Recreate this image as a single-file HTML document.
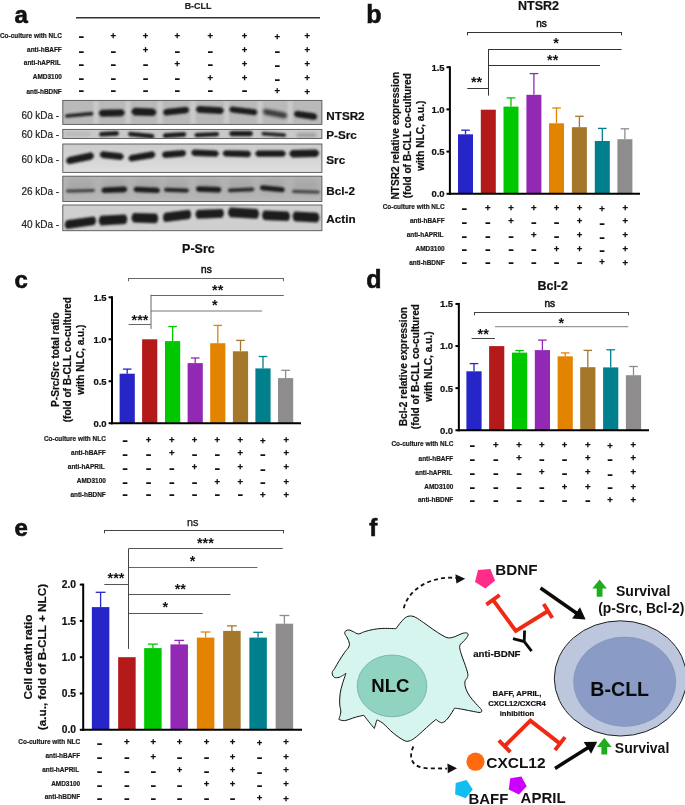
<!DOCTYPE html>
<html lang="en"><head><meta charset="utf-8"><title>Figure</title>
<style>html,body{margin:0;padding:0;background:#fff}svg{display:block}text{font-family:"Liberation Sans", Arial, sans-serif}</style>
</head><body>
<svg width="685" height="805" viewBox="0 0 685 805" font-family='"Liberation Sans", Arial, sans-serif'>
<defs>
<filter id="bl" x="-20%" y="-60%" width="140%" height="220%"><feGaussianBlur stdDeviation="0.9"/></filter>
<filter id="bl2" x="-20%" y="-60%" width="140%" height="220%"><feGaussianBlur stdDeviation="1.6"/></filter>
<filter id="bl3" x="-30%" y="-30%" width="160%" height="160%"><feGaussianBlur stdDeviation="3"/></filter>
<linearGradient id="gsrc" x1="0" y1="0" x2="0" y2="1"><stop offset="0" stop-color="#cbcbcb"/><stop offset="1" stop-color="#dedede"/></linearGradient>
</defs>
<rect x="0.00" y="0.00" width="685.00" height="805.00" fill="#fff" />
<text x="14.50" y="23.20" font-size="24" font-weight="bold" text-anchor="start" fill="#111" stroke="#111" stroke-width=".6">a</text>
<line x1="76.00" y1="17.80" x2="320.00" y2="17.80" stroke="#333" stroke-width="1.4" />
<text x="198.00" y="8.99" font-size="8.9" font-weight="bold" text-anchor="middle" fill="#222"  stroke="#222" stroke-width="0.2">B-CLL</text>
<text x="61.80" y="38.01" font-size="6.45" font-weight="bold" text-anchor="end" fill="#1a1a1a"  stroke="#1a1a1a" stroke-width="0.2">Co-culture with NLC</text>
<text transform="translate(81.20,41.44) scale(1.32,1)" x="0" y="0" font-size="14" font-weight="bold" text-anchor="middle" fill="#111">-</text>
<text x="113.30" y="38.94" font-size="9.5" font-weight="bold" text-anchor="middle" fill="#111" stroke="#111" stroke-width=".3">+</text>
<text x="145.50" y="38.94" font-size="9.5" font-weight="bold" text-anchor="middle" fill="#111" stroke="#111" stroke-width=".3">+</text>
<text x="177.20" y="38.94" font-size="9.5" font-weight="bold" text-anchor="middle" fill="#111" stroke="#111" stroke-width=".3">+</text>
<text x="210.40" y="38.94" font-size="9.5" font-weight="bold" text-anchor="middle" fill="#111" stroke="#111" stroke-width=".3">+</text>
<text x="244.60" y="38.94" font-size="9.5" font-weight="bold" text-anchor="middle" fill="#111" stroke="#111" stroke-width=".3">+</text>
<text x="277.30" y="39.54" font-size="9.5" font-weight="bold" text-anchor="middle" fill="#111" stroke="#111" stroke-width=".3">+</text>
<text x="307.20" y="38.94" font-size="9.5" font-weight="bold" text-anchor="middle" fill="#111" stroke="#111" stroke-width=".3">+</text>
<text x="61.80" y="51.81" font-size="6.45" font-weight="bold" text-anchor="end" fill="#1a1a1a"  stroke="#1a1a1a" stroke-width="0.2">anti-hBAFF</text>
<text transform="translate(81.20,55.64) scale(1.32,1)" x="0" y="0" font-size="14" font-weight="bold" text-anchor="middle" fill="#111">-</text>
<text transform="translate(113.30,55.64) scale(1.32,1)" x="0" y="0" font-size="14" font-weight="bold" text-anchor="middle" fill="#111">-</text>
<text x="145.50" y="52.84" font-size="9.5" font-weight="bold" text-anchor="middle" fill="#111" stroke="#111" stroke-width=".3">+</text>
<text transform="translate(177.20,55.64) scale(1.32,1)" x="0" y="0" font-size="14" font-weight="bold" text-anchor="middle" fill="#111">-</text>
<text transform="translate(210.40,55.64) scale(1.32,1)" x="0" y="0" font-size="14" font-weight="bold" text-anchor="middle" fill="#111">-</text>
<text x="244.60" y="52.84" font-size="9.5" font-weight="bold" text-anchor="middle" fill="#111" stroke="#111" stroke-width=".3">+</text>
<text transform="translate(277.30,56.24) scale(1.32,1)" x="0" y="0" font-size="14" font-weight="bold" text-anchor="middle" fill="#111">-</text>
<text x="307.20" y="52.84" font-size="9.5" font-weight="bold" text-anchor="middle" fill="#111" stroke="#111" stroke-width=".3">+</text>
<text x="60.70" y="65.41" font-size="6.45" font-weight="bold" text-anchor="end" fill="#1a1a1a"  stroke="#1a1a1a" stroke-width="0.2">anti-hAPRIL</text>
<text transform="translate(81.20,69.04) scale(1.32,1)" x="0" y="0" font-size="14" font-weight="bold" text-anchor="middle" fill="#111">-</text>
<text transform="translate(113.30,69.04) scale(1.32,1)" x="0" y="0" font-size="14" font-weight="bold" text-anchor="middle" fill="#111">-</text>
<text transform="translate(145.50,69.04) scale(1.32,1)" x="0" y="0" font-size="14" font-weight="bold" text-anchor="middle" fill="#111">-</text>
<text x="177.20" y="67.23" font-size="9.5" font-weight="bold" text-anchor="middle" fill="#111" stroke="#111" stroke-width=".3">+</text>
<text transform="translate(210.40,69.04) scale(1.32,1)" x="0" y="0" font-size="14" font-weight="bold" text-anchor="middle" fill="#111">-</text>
<text x="244.60" y="67.23" font-size="9.5" font-weight="bold" text-anchor="middle" fill="#111" stroke="#111" stroke-width=".3">+</text>
<text transform="translate(277.30,69.64) scale(1.32,1)" x="0" y="0" font-size="14" font-weight="bold" text-anchor="middle" fill="#111">-</text>
<text x="307.20" y="67.23" font-size="9.5" font-weight="bold" text-anchor="middle" fill="#111" stroke="#111" stroke-width=".3">+</text>
<text x="61.80" y="79.11" font-size="6.45" font-weight="bold" text-anchor="end" fill="#1a1a1a"  stroke="#1a1a1a" stroke-width="0.2">AMD3100</text>
<text transform="translate(81.20,83.24) scale(1.32,1)" x="0" y="0" font-size="14" font-weight="bold" text-anchor="middle" fill="#111">-</text>
<text transform="translate(113.30,83.24) scale(1.32,1)" x="0" y="0" font-size="14" font-weight="bold" text-anchor="middle" fill="#111">-</text>
<text transform="translate(145.50,83.24) scale(1.32,1)" x="0" y="0" font-size="14" font-weight="bold" text-anchor="middle" fill="#111">-</text>
<text transform="translate(177.20,83.24) scale(1.32,1)" x="0" y="0" font-size="14" font-weight="bold" text-anchor="middle" fill="#111">-</text>
<text x="210.40" y="81.14" font-size="9.5" font-weight="bold" text-anchor="middle" fill="#111" stroke="#111" stroke-width=".3">+</text>
<text x="244.60" y="81.14" font-size="9.5" font-weight="bold" text-anchor="middle" fill="#111" stroke="#111" stroke-width=".3">+</text>
<text transform="translate(277.30,83.84) scale(1.32,1)" x="0" y="0" font-size="14" font-weight="bold" text-anchor="middle" fill="#111">-</text>
<text x="307.20" y="81.14" font-size="9.5" font-weight="bold" text-anchor="middle" fill="#111" stroke="#111" stroke-width=".3">+</text>
<text x="61.80" y="93.61" font-size="6.45" font-weight="bold" text-anchor="end" fill="#1a1a1a"  stroke="#1a1a1a" stroke-width="0.2">anti-hBDNF</text>
<text transform="translate(81.20,94.74) scale(1.32,1)" x="0" y="0" font-size="14" font-weight="bold" text-anchor="middle" fill="#111">-</text>
<text transform="translate(113.30,94.74) scale(1.32,1)" x="0" y="0" font-size="14" font-weight="bold" text-anchor="middle" fill="#111">-</text>
<text transform="translate(145.50,94.74) scale(1.32,1)" x="0" y="0" font-size="14" font-weight="bold" text-anchor="middle" fill="#111">-</text>
<text transform="translate(177.20,94.74) scale(1.32,1)" x="0" y="0" font-size="14" font-weight="bold" text-anchor="middle" fill="#111">-</text>
<text transform="translate(210.40,94.74) scale(1.32,1)" x="0" y="0" font-size="14" font-weight="bold" text-anchor="middle" fill="#111">-</text>
<text transform="translate(244.60,94.74) scale(1.32,1)" x="0" y="0" font-size="14" font-weight="bold" text-anchor="middle" fill="#111">-</text>
<text x="277.30" y="94.44" font-size="9.5" font-weight="bold" text-anchor="middle" fill="#111" stroke="#111" stroke-width=".3">+</text>
<text x="307.20" y="95.34" font-size="9.5" font-weight="bold" text-anchor="middle" fill="#111" stroke="#111" stroke-width=".3">+</text>
<clipPath id="cp0"><rect x="62.8" y="100.4" width="259.10" height="24.00"/></clipPath>
<rect x="62.80" y="100.40" width="259.10" height="24.00" fill="#b9b9b9" />
<g clip-path="url(#cp0)">
<rect x="93.5" y="100.4" width="5" height="24.0" fill="#d2d2d2" opacity=".75" filter="url(#bl2)"/>
<rect x="125.5" y="100.4" width="5" height="24.0" fill="#d2d2d2" opacity=".75" filter="url(#bl2)"/>
<rect x="157.5" y="100.4" width="5" height="24.0" fill="#d2d2d2" opacity=".75" filter="url(#bl2)"/>
<rect x="190.5" y="100.4" width="5" height="24.0" fill="#d2d2d2" opacity=".75" filter="url(#bl2)"/>
<rect x="224.0" y="100.4" width="5" height="24.0" fill="#d2d2d2" opacity=".75" filter="url(#bl2)"/>
<rect x="257.5" y="100.4" width="5" height="24.0" fill="#d2d2d2" opacity=".75" filter="url(#bl2)"/>
<rect x="287.5" y="100.4" width="5" height="24.0" fill="#d2d2d2" opacity=".75" filter="url(#bl2)"/>
<path d="M66.40,114.20 L92.00,111.80 Q94.88,113.60 92.00,115.40 L66.40,117.80 Q63.52,116.00 66.40,114.20Z" fill="#1c1c1c" opacity="0.95" filter="url(#bl)"/>
<path d="M101.50,109.70 L122.00,109.30 Q127.60,112.80 122.00,116.30 L101.50,116.70 Q95.90,113.20 101.50,109.70Z" fill="#1c1c1c" opacity="1" filter="url(#bl)"/>
<path d="M134.40,107.80 L153.40,108.40 Q159.48,112.20 153.40,116.00 L134.40,115.40 Q128.32,111.60 134.40,107.80Z" fill="#1c1c1c" opacity="1" filter="url(#bl)"/>
<path d="M165.60,108.90 L186.60,106.70 Q191.88,110.00 186.60,113.30 L165.60,115.50 Q160.32,112.20 165.60,108.90Z" fill="#1c1c1c" opacity="1" filter="url(#bl)"/>
<path d="M198.50,106.10 L221.20,107.30 Q226.48,110.60 221.20,113.90 L198.50,112.70 Q193.22,109.40 198.50,106.10Z" fill="#1c1c1c" opacity="1" filter="url(#bl)"/>
<path d="M231.70,106.40 L255.00,109.20 Q259.80,112.20 255.00,115.20 L231.70,112.40 Q226.90,109.40 231.70,106.40Z" fill="#1c1c1c" opacity="1" filter="url(#bl)"/>
<path d="M265.20,108.80 L284.80,112.40 Q289.60,115.40 284.80,118.40 L265.20,114.80 Q260.40,111.80 265.20,108.80Z" fill="#1c1c1c" opacity="0.8" filter="url(#bl2)"/>
<path d="M296.50,110.70 L314.70,113.30 Q319.98,116.60 314.70,119.90 L296.50,117.30 Q291.22,114.00 296.50,110.70Z" fill="#1c1c1c" opacity="1" filter="url(#bl)"/>
</g>
<rect x="62.8" y="100.4" width="259.10" height="24.00" fill="none" stroke="#555" stroke-width="0.9"/>
<text x="326.30" y="119.99" font-size="11.7" font-weight="bold" text-anchor="start" fill="#111"  stroke="#111" stroke-width="0.2">NTSR2</text>
<text x="21.40" y="118.58" font-size="10" font-weight="normal" text-anchor="start" fill="#222"  stroke="#222" stroke-width="0.2">60 kDa -</text>
<clipPath id="cp1"><rect x="62.8" y="129.4" width="259.10" height="9.10"/></clipPath>
<rect x="62.80" y="129.40" width="259.10" height="9.10" fill="#c9c9c9" />
<g clip-path="url(#cp1)">
<path d="M66.50,132.50 L89.50,132.50 Q91.90,134.00 89.50,135.50 L66.50,135.50 Q64.10,134.00 66.50,132.50Z" fill="#1c1c1c" opacity="0.12" filter="url(#bl2)"/>
<path d="M100.80,131.90 L117.20,131.10 Q120.88,133.40 117.20,135.70 L100.80,136.50 Q97.12,134.20 100.80,131.90Z" fill="#1c1c1c" opacity="1" filter="url(#bl)"/>
<path d="M129.80,131.70 L152.70,133.90 Q156.38,136.20 152.70,138.50 L129.80,136.30 Q126.12,134.00 129.80,131.70Z" fill="#1c1c1c" opacity="1" filter="url(#bl)"/>
<path d="M164.60,133.30 L184.50,132.10 Q188.18,134.40 184.50,136.70 L164.60,137.90 Q160.92,135.60 164.60,133.30Z" fill="#1c1c1c" opacity="1" filter="url(#bl)"/>
<path d="M196.10,133.10 L217.40,132.10 Q220.76,134.20 217.40,136.30 L196.10,137.30 Q192.74,135.20 196.10,133.10Z" fill="#1c1c1c" opacity="1" filter="url(#bl)"/>
<path d="M231.30,131.00 L250.90,131.00 Q255.06,133.60 250.90,136.20 L231.30,136.20 Q227.14,133.60 231.30,131.00Z" fill="#1c1c1c" opacity="1" filter="url(#bl)"/>
<path d="M262.90,131.70 L284.60,133.30 Q287.64,135.20 284.60,137.10 L262.90,135.50 Q259.86,133.60 262.90,131.70Z" fill="#1c1c1c" opacity="0.95" filter="url(#bl)"/>
<path d="M297.80,133.20 L315.20,133.20 Q318.08,135.00 315.20,136.80 L297.80,136.80 Q294.92,135.00 297.80,133.20Z" fill="#1c1c1c" opacity="0.28" filter="url(#bl2)"/>
</g>
<rect x="62.8" y="129.4" width="259.10" height="9.10" fill="none" stroke="#555" stroke-width="0.9"/>
<text x="326.30" y="139.19" font-size="11.7" font-weight="bold" text-anchor="start" fill="#111"  stroke="#111" stroke-width="0.2">P-Src</text>
<text x="21.40" y="137.98" font-size="10" font-weight="normal" text-anchor="start" fill="#222"  stroke="#222" stroke-width="0.2">60 kDa -</text>
<clipPath id="cp2"><rect x="62.8" y="144.0" width="259.10" height="28.40"/></clipPath>
<rect x="62.80" y="144.00" width="259.10" height="28.40" fill="url(#gsrc)" />
<g clip-path="url(#cp2)">
<path d="M68.90,156.90 L91.10,152.30 Q97.02,156.00 91.10,159.70 L68.90,164.30 Q62.98,160.60 68.90,156.90Z" fill="#1c1c1c" opacity="1" filter="url(#bl)"/>
<path d="M102.30,151.30 L121.20,153.30 Q126.48,156.60 121.20,159.90 L102.30,157.90 Q97.02,154.60 102.30,151.30Z" fill="#1c1c1c" opacity="1" filter="url(#bl)"/>
<path d="M130.90,154.90 L152.80,151.30 Q158.08,154.60 152.80,157.90 L130.90,161.50 Q125.62,158.20 130.90,154.90Z" fill="#1c1c1c" opacity="1" filter="url(#bl)"/>
<path d="M164.50,151.60 L183.60,150.00 Q188.72,153.20 183.60,156.40 L164.50,158.00 Q159.38,154.80 164.50,151.60Z" fill="#1c1c1c" opacity="1" filter="url(#bl)"/>
<path d="M193.70,149.60 L216.30,150.40 Q221.42,153.60 216.30,156.80 L193.70,156.00 Q188.58,152.80 193.70,149.60Z" fill="#1c1c1c" opacity="1" filter="url(#bl)"/>
<path d="M225.20,150.20 L248.60,150.80 Q253.72,154.00 248.60,157.20 L225.20,156.60 Q220.08,153.40 225.20,150.20Z" fill="#1c1c1c" opacity="1" filter="url(#bl)"/>
<path d="M257.70,150.40 L283.30,150.40 Q288.42,153.60 283.30,156.80 L257.70,156.80 Q252.58,153.60 257.70,150.40Z" fill="#1c1c1c" opacity="1" filter="url(#bl)"/>
<path d="M292.20,150.10 L316.30,149.50 Q322.22,153.20 316.30,156.90 L292.20,157.50 Q286.28,153.80 292.20,150.10Z" fill="#1c1c1c" opacity="1" filter="url(#bl)"/>
</g>
<rect x="62.8" y="144.0" width="259.10" height="28.40" fill="none" stroke="#555" stroke-width="0.9"/>
<text x="326.30" y="164.19" font-size="11.7" font-weight="bold" text-anchor="start" fill="#111"  stroke="#111" stroke-width="0.2">Src</text>
<text x="21.40" y="163.38" font-size="10" font-weight="normal" text-anchor="start" fill="#222"  stroke="#222" stroke-width="0.2">60 kDa -</text>
<clipPath id="cp3"><rect x="62.8" y="176.2" width="259.10" height="25.30"/></clipPath>
<rect x="62.80" y="176.20" width="259.10" height="25.30" fill="#b6b6b6" />
<g clip-path="url(#cp3)">
<rect x="66.6" y="179.2" width="27.6" height="14" fill="#8e8e8e" opacity=".35" filter="url(#bl3)"/>
<rect x="101.8" y="179.2" width="25.1" height="14" fill="#8e8e8e" opacity=".35" filter="url(#bl3)"/>
<rect x="134.0" y="179.2" width="25.5" height="14" fill="#8e8e8e" opacity=".35" filter="url(#bl3)"/>
<rect x="164.6" y="179.2" width="23.7" height="14" fill="#8e8e8e" opacity=".35" filter="url(#bl3)"/>
<rect x="196.4" y="179.2" width="24.6" height="14" fill="#8e8e8e" opacity=".35" filter="url(#bl3)"/>
<rect x="228.5" y="179.2" width="25.2" height="14" fill="#8e8e8e" opacity=".35" filter="url(#bl3)"/>
<rect x="260.4" y="179.2" width="23.9" height="14" fill="#8e8e8e" opacity=".35" filter="url(#bl3)"/>
<rect x="292.6" y="179.2" width="26.4" height="14" fill="#8e8e8e" opacity=".35" filter="url(#bl3)"/>
<path d="M67.10,189.50 L93.70,188.90 Q96.10,190.40 93.70,191.90 L67.10,192.50 Q64.70,191.00 67.10,189.50Z" fill="#1c1c1c" opacity="0.75" filter="url(#bl)"/>
<path d="M103.60,187.40 L125.10,186.60 Q129.58,189.40 125.10,192.20 L103.60,193.00 Q99.12,190.20 103.60,187.40Z" fill="#1c1c1c" opacity="1" filter="url(#bl)"/>
<path d="M135.70,186.70 L157.80,187.70 Q162.12,190.40 157.80,193.10 L135.70,192.10 Q131.38,189.40 135.70,186.70Z" fill="#1c1c1c" opacity="1" filter="url(#bl)"/>
<path d="M165.60,187.80 L187.30,188.40 Q190.50,190.40 187.30,192.40 L165.60,191.80 Q162.40,189.80 165.60,187.80Z" fill="#1c1c1c" opacity="0.95" filter="url(#bl)"/>
<path d="M198.10,186.30 L219.30,187.10 Q223.62,189.80 219.30,192.50 L198.10,191.70 Q193.78,189.00 198.10,186.30Z" fill="#1c1c1c" opacity="1" filter="url(#bl)"/>
<path d="M229.30,188.60 L252.90,187.60 Q255.78,189.40 252.90,191.20 L229.30,192.20 Q226.42,190.40 229.30,188.60Z" fill="#1c1c1c" opacity="0.9" filter="url(#bl)"/>
<path d="M261.90,185.30 L282.80,187.30 Q286.80,189.80 282.80,192.30 L261.90,190.30 Q257.90,187.80 261.90,185.30Z" fill="#1c1c1c" opacity="1" filter="url(#bl)"/>
<path d="M293.20,189.80 L318.40,190.60 Q320.96,192.20 318.40,193.80 L293.20,193.00 Q290.64,191.40 293.20,189.80Z" fill="#1c1c1c" opacity="0.7" filter="url(#bl)"/>
</g>
<rect x="62.8" y="176.2" width="259.10" height="25.30" fill="none" stroke="#555" stroke-width="0.9"/>
<text x="326.30" y="195.09" font-size="11.7" font-weight="bold" text-anchor="start" fill="#111"  stroke="#111" stroke-width="0.2">Bcl-2</text>
<text x="21.40" y="195.28" font-size="10" font-weight="normal" text-anchor="start" fill="#222"  stroke="#222" stroke-width="0.2">26 kDa -</text>
<clipPath id="cp4"><rect x="62.8" y="205.0" width="259.10" height="25.70"/></clipPath>
<rect x="62.80" y="205.00" width="259.10" height="25.70" fill="#cfcfcf" />
<g clip-path="url(#cp4)">
<path d="M66.66,220.30 L94.14,216.50 Q97.92,220.80 94.14,225.10 L66.66,228.90 Q62.88,224.60 66.66,220.30Z" fill="#1c1c1c" opacity="1" filter="url(#bl)"/>
<path d="M100.84,215.80 L125.26,214.40 Q129.48,219.20 125.26,224.00 L100.84,225.40 Q96.62,220.60 100.84,215.80Z" fill="#1c1c1c" opacity="1" filter="url(#bl)"/>
<path d="M133.54,213.00 L156.16,213.60 Q160.38,218.40 156.16,223.20 L133.54,222.60 Q129.32,217.80 133.54,213.00Z" fill="#1c1c1c" opacity="1" filter="url(#bl)"/>
<path d="M164.89,212.70 L189.22,209.70 Q193.35,214.40 189.22,219.10 L164.89,222.10 Q160.75,217.40 164.89,212.70Z" fill="#1c1c1c" opacity="1" filter="url(#bl)"/>
<path d="M197.27,210.10 L222.13,209.10 Q225.92,213.40 222.13,217.70 L197.27,218.70 Q193.48,214.40 197.27,210.10Z" fill="#1c1c1c" opacity="1" filter="url(#bl)"/>
<path d="M230.19,207.50 L257.00,208.90 Q261.32,213.80 257.00,218.70 L230.19,217.30 Q225.88,212.40 230.19,207.50Z" fill="#1c1c1c" opacity="1" filter="url(#bl)"/>
<path d="M264.14,210.40 L287.96,211.40 Q292.18,216.20 287.96,221.00 L264.14,220.00 Q259.92,215.20 264.14,210.40Z" fill="#1c1c1c" opacity="1" filter="url(#bl)"/>
<path d="M294.64,211.60 L317.36,212.80 Q321.58,217.60 317.36,222.40 L294.64,221.20 Q290.42,216.40 294.64,211.60Z" fill="#1c1c1c" opacity="1" filter="url(#bl)"/>
</g>
<rect x="62.8" y="205.0" width="259.10" height="25.70" fill="none" stroke="#555" stroke-width="0.9"/>
<text x="326.30" y="223.09" font-size="11.7" font-weight="bold" text-anchor="start" fill="#111"  stroke="#111" stroke-width="0.2">Actin</text>
<text x="21.40" y="227.98" font-size="10" font-weight="normal" text-anchor="start" fill="#222"  stroke="#222" stroke-width="0.2">40 kDa -</text>
<text x="366.30" y="23.40" font-size="25" font-weight="bold" text-anchor="start" fill="#111" stroke="#111" stroke-width=".6">b</text>
<text x="538.60" y="10.18" font-size="12.5" font-weight="bold" text-anchor="middle" fill="#111"  stroke="#111" stroke-width="0.2">NTSR2</text>
<line x1="465.50" y1="134.30" x2="465.50" y2="130.20" stroke="#2525C8" stroke-width="1.3" />
<line x1="461.20" y1="130.20" x2="469.80" y2="130.20" stroke="#2525C8" stroke-width="1.3" />
<rect x="458.00" y="134.30" width="15.00" height="59.50" fill="#2525C8" />
<rect x="480.80" y="109.70" width="15.00" height="84.10" fill="#B41A1A" />
<line x1="511.00" y1="106.60" x2="511.00" y2="97.90" stroke="#00C800" stroke-width="1.3" />
<line x1="506.70" y1="97.90" x2="515.30" y2="97.90" stroke="#00C800" stroke-width="1.3" />
<rect x="503.50" y="106.60" width="15.00" height="87.20" fill="#00C800" />
<line x1="533.90" y1="94.80" x2="533.90" y2="73.60" stroke="#9129B5" stroke-width="1.3" />
<line x1="529.60" y1="73.60" x2="538.20" y2="73.60" stroke="#9129B5" stroke-width="1.3" />
<rect x="526.40" y="94.80" width="15.00" height="99.00" fill="#9129B5" />
<line x1="556.50" y1="123.30" x2="556.50" y2="108.00" stroke="#E38400" stroke-width="1.3" />
<line x1="552.20" y1="108.00" x2="560.80" y2="108.00" stroke="#E38400" stroke-width="1.3" />
<rect x="549.00" y="123.30" width="15.00" height="70.50" fill="#E38400" />
<line x1="579.40" y1="127.20" x2="579.40" y2="116.30" stroke="#A5772B" stroke-width="1.3" />
<line x1="575.10" y1="116.30" x2="583.70" y2="116.30" stroke="#A5772B" stroke-width="1.3" />
<rect x="571.90" y="127.20" width="15.00" height="66.60" fill="#A5772B" />
<line x1="602.30" y1="141.00" x2="602.30" y2="128.40" stroke="#00808C" stroke-width="1.3" />
<line x1="598.00" y1="128.40" x2="606.60" y2="128.40" stroke="#00808C" stroke-width="1.3" />
<rect x="594.80" y="141.00" width="15.00" height="52.80" fill="#00808C" />
<line x1="624.90" y1="139.20" x2="624.90" y2="128.80" stroke="#8E8C8C" stroke-width="1.3" />
<line x1="620.60" y1="128.80" x2="629.20" y2="128.80" stroke="#8E8C8C" stroke-width="1.3" />
<rect x="617.40" y="139.20" width="15.00" height="54.60" fill="#8E8C8C" />
<line x1="449.90" y1="66.20" x2="449.90" y2="194.80" stroke="#000" stroke-width="2.0" />
<line x1="448.90" y1="193.80" x2="640.00" y2="193.80" stroke="#000" stroke-width="2.0" />
<line x1="446.50" y1="193.80" x2="449.90" y2="193.80" stroke="#000" stroke-width="2.0" />
<text x="444.60" y="197.20" font-size="9.5" font-weight="bold" text-anchor="end" fill="#111"  stroke="#111" stroke-width="0.2">0.0</text>
<line x1="446.50" y1="151.60" x2="449.90" y2="151.60" stroke="#000" stroke-width="2.0" />
<text x="444.60" y="155.00" font-size="9.5" font-weight="bold" text-anchor="end" fill="#111"  stroke="#111" stroke-width="0.2">0.5</text>
<line x1="446.50" y1="109.40" x2="449.90" y2="109.40" stroke="#000" stroke-width="2.0" />
<text x="444.60" y="112.80" font-size="9.5" font-weight="bold" text-anchor="end" fill="#111"  stroke="#111" stroke-width="0.2">1.0</text>
<line x1="446.50" y1="67.20" x2="449.90" y2="67.20" stroke="#000" stroke-width="2.0" />
<text x="444.60" y="70.60" font-size="9.5" font-weight="bold" text-anchor="end" fill="#111"  stroke="#111" stroke-width="0.2">1.5</text>
<text transform="translate(395.80,135.70) rotate(-90)" x="0" y="3.63" font-size="10.15" font-weight="bold" text-anchor="middle" fill="#111" stroke="#111" stroke-width="0.2">NTSR2 relative expression</text>
<text transform="translate(407.50,135.70) rotate(-90)" x="0" y="3.63" font-size="10.15" font-weight="bold" text-anchor="middle" fill="#111" stroke="#111" stroke-width="0.2">(fold of B-CLL co-cultured</text>
<text transform="translate(420.30,135.70) rotate(-90)" x="0" y="3.63" font-size="10.15" font-weight="bold" text-anchor="middle" fill="#111" stroke="#111" stroke-width="0.2">with NLC, a.u.)</text>
<text x="444.60" y="209.31" font-size="6.45" font-weight="bold" text-anchor="end" fill="#1a1a1a"  stroke="#1a1a1a" stroke-width="0.2">Co-culture with NLC</text>
<text transform="translate(464.20,212.74) scale(1.32,1)" x="0" y="0" font-size="14" font-weight="bold" text-anchor="middle" fill="#111">-</text>
<text x="487.70" y="210.93" font-size="9.5" font-weight="bold" text-anchor="middle" fill="#111" stroke="#111" stroke-width=".3">+</text>
<text x="511.00" y="210.93" font-size="9.5" font-weight="bold" text-anchor="middle" fill="#111" stroke="#111" stroke-width=".3">+</text>
<text x="533.80" y="210.93" font-size="9.5" font-weight="bold" text-anchor="middle" fill="#111" stroke="#111" stroke-width=".3">+</text>
<text x="556.50" y="210.93" font-size="9.5" font-weight="bold" text-anchor="middle" fill="#111" stroke="#111" stroke-width=".3">+</text>
<text x="579.50" y="210.93" font-size="9.5" font-weight="bold" text-anchor="middle" fill="#111" stroke="#111" stroke-width=".3">+</text>
<text x="602.00" y="211.53" font-size="9.5" font-weight="bold" text-anchor="middle" fill="#111" stroke="#111" stroke-width=".3">+</text>
<text x="625.30" y="210.93" font-size="9.5" font-weight="bold" text-anchor="middle" fill="#111" stroke="#111" stroke-width=".3">+</text>
<text x="444.60" y="223.41" font-size="6.45" font-weight="bold" text-anchor="end" fill="#1a1a1a"  stroke="#1a1a1a" stroke-width="0.2">anti-hBAFF</text>
<text transform="translate(464.20,226.94) scale(1.32,1)" x="0" y="0" font-size="14" font-weight="bold" text-anchor="middle" fill="#111">-</text>
<text transform="translate(487.70,226.94) scale(1.32,1)" x="0" y="0" font-size="14" font-weight="bold" text-anchor="middle" fill="#111">-</text>
<text x="511.00" y="224.23" font-size="9.5" font-weight="bold" text-anchor="middle" fill="#111" stroke="#111" stroke-width=".3">+</text>
<text transform="translate(533.80,226.94) scale(1.32,1)" x="0" y="0" font-size="14" font-weight="bold" text-anchor="middle" fill="#111">-</text>
<text transform="translate(556.50,226.94) scale(1.32,1)" x="0" y="0" font-size="14" font-weight="bold" text-anchor="middle" fill="#111">-</text>
<text x="579.50" y="224.23" font-size="9.5" font-weight="bold" text-anchor="middle" fill="#111" stroke="#111" stroke-width=".3">+</text>
<text transform="translate(602.00,227.54) scale(1.32,1)" x="0" y="0" font-size="14" font-weight="bold" text-anchor="middle" fill="#111">-</text>
<text x="625.30" y="224.23" font-size="9.5" font-weight="bold" text-anchor="middle" fill="#111" stroke="#111" stroke-width=".3">+</text>
<text x="443.50" y="237.41" font-size="6.45" font-weight="bold" text-anchor="end" fill="#1a1a1a"  stroke="#1a1a1a" stroke-width="0.2">anti-hAPRIL</text>
<text transform="translate(464.20,241.34) scale(1.32,1)" x="0" y="0" font-size="14" font-weight="bold" text-anchor="middle" fill="#111">-</text>
<text transform="translate(487.70,241.34) scale(1.32,1)" x="0" y="0" font-size="14" font-weight="bold" text-anchor="middle" fill="#111">-</text>
<text transform="translate(511.00,241.34) scale(1.32,1)" x="0" y="0" font-size="14" font-weight="bold" text-anchor="middle" fill="#111">-</text>
<text x="533.80" y="238.43" font-size="9.5" font-weight="bold" text-anchor="middle" fill="#111" stroke="#111" stroke-width=".3">+</text>
<text transform="translate(556.50,241.34) scale(1.32,1)" x="0" y="0" font-size="14" font-weight="bold" text-anchor="middle" fill="#111">-</text>
<text x="579.50" y="238.43" font-size="9.5" font-weight="bold" text-anchor="middle" fill="#111" stroke="#111" stroke-width=".3">+</text>
<text transform="translate(602.00,241.94) scale(1.32,1)" x="0" y="0" font-size="14" font-weight="bold" text-anchor="middle" fill="#111">-</text>
<text x="625.30" y="238.43" font-size="9.5" font-weight="bold" text-anchor="middle" fill="#111" stroke="#111" stroke-width=".3">+</text>
<text x="444.60" y="251.11" font-size="6.45" font-weight="bold" text-anchor="end" fill="#1a1a1a"  stroke="#1a1a1a" stroke-width="0.2">AMD3100</text>
<text transform="translate(464.20,254.34) scale(1.32,1)" x="0" y="0" font-size="14" font-weight="bold" text-anchor="middle" fill="#111">-</text>
<text transform="translate(487.70,254.34) scale(1.32,1)" x="0" y="0" font-size="14" font-weight="bold" text-anchor="middle" fill="#111">-</text>
<text transform="translate(511.00,254.34) scale(1.32,1)" x="0" y="0" font-size="14" font-weight="bold" text-anchor="middle" fill="#111">-</text>
<text transform="translate(533.80,254.34) scale(1.32,1)" x="0" y="0" font-size="14" font-weight="bold" text-anchor="middle" fill="#111">-</text>
<text x="556.50" y="252.23" font-size="9.5" font-weight="bold" text-anchor="middle" fill="#111" stroke="#111" stroke-width=".3">+</text>
<text x="579.50" y="252.23" font-size="9.5" font-weight="bold" text-anchor="middle" fill="#111" stroke="#111" stroke-width=".3">+</text>
<text transform="translate(602.00,254.94) scale(1.32,1)" x="0" y="0" font-size="14" font-weight="bold" text-anchor="middle" fill="#111">-</text>
<text x="625.30" y="252.23" font-size="9.5" font-weight="bold" text-anchor="middle" fill="#111" stroke="#111" stroke-width=".3">+</text>
<text x="444.60" y="264.91" font-size="6.45" font-weight="bold" text-anchor="end" fill="#1a1a1a"  stroke="#1a1a1a" stroke-width="0.2">anti-hBDNF</text>
<text transform="translate(464.20,266.84) scale(1.32,1)" x="0" y="0" font-size="14" font-weight="bold" text-anchor="middle" fill="#111">-</text>
<text transform="translate(487.70,266.84) scale(1.32,1)" x="0" y="0" font-size="14" font-weight="bold" text-anchor="middle" fill="#111">-</text>
<text transform="translate(511.00,266.84) scale(1.32,1)" x="0" y="0" font-size="14" font-weight="bold" text-anchor="middle" fill="#111">-</text>
<text transform="translate(533.80,266.84) scale(1.32,1)" x="0" y="0" font-size="14" font-weight="bold" text-anchor="middle" fill="#111">-</text>
<text transform="translate(556.50,266.84) scale(1.32,1)" x="0" y="0" font-size="14" font-weight="bold" text-anchor="middle" fill="#111">-</text>
<text transform="translate(579.50,266.84) scale(1.32,1)" x="0" y="0" font-size="14" font-weight="bold" text-anchor="middle" fill="#111">-</text>
<text x="602.00" y="265.34" font-size="9.5" font-weight="bold" text-anchor="middle" fill="#111" stroke="#111" stroke-width=".3">+</text>
<text x="625.30" y="266.24" font-size="9.5" font-weight="bold" text-anchor="middle" fill="#111" stroke="#111" stroke-width=".3">+</text>
<text x="541.50" y="27.08" font-size="10" font-weight="normal" text-anchor="middle" fill="#111" stroke="#111" stroke-width=".5">ns</text>
<line x1="467.50" y1="32.50" x2="621.50" y2="32.50" stroke="#333" stroke-width="1.0" />
<line x1="467.50" y1="32.00" x2="467.50" y2="35.30" stroke="#333" stroke-width="1.0" />
<line x1="621.50" y1="32.00" x2="621.50" y2="35.30" stroke="#333" stroke-width="1.0" />
<line x1="488.50" y1="49.10" x2="488.50" y2="95.60" stroke="#333" stroke-width="1" />
<line x1="488.40" y1="49.50" x2="621.70" y2="49.50" stroke="#333" stroke-width="1.0" />
<line x1="488.40" y1="65.50" x2="600.00" y2="65.50" stroke="#333" stroke-width="1.0" />
<line x1="467.30" y1="88.50" x2="488.40" y2="88.50" stroke="#333" stroke-width="1.0" />
<text x="556.00" y="47.87" font-size="14.4" font-weight="bold" text-anchor="middle" fill="#111" >*</text>
<text x="552.70" y="64.67" font-size="14.4" font-weight="bold" text-anchor="middle" fill="#111" >**</text>
<text x="476.50" y="87.47" font-size="14.4" font-weight="bold" text-anchor="middle" fill="#111" >**</text>
<text x="14.50" y="288.20" font-size="24" font-weight="bold" text-anchor="start" fill="#111" stroke="#111" stroke-width=".6">c</text>
<text x="198.40" y="253.28" font-size="12.5" font-weight="bold" text-anchor="middle" fill="#111"  stroke="#111" stroke-width="0.2">P-Src</text>
<line x1="127.20" y1="373.70" x2="127.20" y2="369.10" stroke="#2525C8" stroke-width="1.3" />
<line x1="122.90" y1="369.10" x2="131.50" y2="369.10" stroke="#2525C8" stroke-width="1.3" />
<rect x="119.60" y="373.70" width="15.20" height="49.50" fill="#2525C8" />
<rect x="142.10" y="339.30" width="15.20" height="83.90" fill="#B41A1A" />
<line x1="172.60" y1="341.10" x2="172.60" y2="326.50" stroke="#00C800" stroke-width="1.3" />
<line x1="168.30" y1="326.50" x2="176.90" y2="326.50" stroke="#00C800" stroke-width="1.3" />
<rect x="165.00" y="341.10" width="15.20" height="82.10" fill="#00C800" />
<line x1="195.20" y1="363.10" x2="195.20" y2="358.00" stroke="#9129B5" stroke-width="1.3" />
<line x1="190.90" y1="358.00" x2="199.50" y2="358.00" stroke="#9129B5" stroke-width="1.3" />
<rect x="187.60" y="363.10" width="15.20" height="60.10" fill="#9129B5" />
<line x1="217.80" y1="343.20" x2="217.80" y2="325.40" stroke="#E38400" stroke-width="1.3" />
<line x1="213.50" y1="325.40" x2="222.10" y2="325.40" stroke="#E38400" stroke-width="1.3" />
<rect x="210.20" y="343.20" width="15.20" height="80.00" fill="#E38400" />
<line x1="240.50" y1="351.30" x2="240.50" y2="340.40" stroke="#A5772B" stroke-width="1.3" />
<line x1="236.20" y1="340.40" x2="244.80" y2="340.40" stroke="#A5772B" stroke-width="1.3" />
<rect x="232.90" y="351.30" width="15.20" height="71.90" fill="#A5772B" />
<line x1="263.00" y1="368.40" x2="263.00" y2="356.50" stroke="#00808C" stroke-width="1.3" />
<line x1="258.70" y1="356.50" x2="267.30" y2="356.50" stroke="#00808C" stroke-width="1.3" />
<rect x="255.40" y="368.40" width="15.20" height="54.80" fill="#00808C" />
<line x1="285.60" y1="378.10" x2="285.60" y2="370.30" stroke="#8E8C8C" stroke-width="1.3" />
<line x1="281.30" y1="370.30" x2="289.90" y2="370.30" stroke="#8E8C8C" stroke-width="1.3" />
<rect x="278.00" y="378.10" width="15.20" height="45.10" fill="#8E8C8C" />
<line x1="112.00" y1="296.35" x2="112.00" y2="424.20" stroke="#000" stroke-width="2.0" />
<line x1="111.00" y1="423.20" x2="301.00" y2="423.20" stroke="#000" stroke-width="2.0" />
<line x1="108.60" y1="423.20" x2="112.00" y2="423.20" stroke="#000" stroke-width="2.0" />
<text x="106.60" y="426.60" font-size="9.5" font-weight="bold" text-anchor="end" fill="#111"  stroke="#111" stroke-width="0.2">0.0</text>
<line x1="108.60" y1="381.25" x2="112.00" y2="381.25" stroke="#000" stroke-width="2.0" />
<text x="106.60" y="384.65" font-size="9.5" font-weight="bold" text-anchor="end" fill="#111"  stroke="#111" stroke-width="0.2">0.5</text>
<line x1="108.60" y1="339.30" x2="112.00" y2="339.30" stroke="#000" stroke-width="2.0" />
<text x="106.60" y="342.70" font-size="9.5" font-weight="bold" text-anchor="end" fill="#111"  stroke="#111" stroke-width="0.2">1.0</text>
<line x1="108.60" y1="297.35" x2="112.00" y2="297.35" stroke="#000" stroke-width="2.0" />
<text x="106.60" y="300.75" font-size="9.5" font-weight="bold" text-anchor="end" fill="#111"  stroke="#111" stroke-width="0.2">1.5</text>
<text transform="translate(55.60,359.70) rotate(-90)" x="0" y="3.63" font-size="10.15" font-weight="bold" text-anchor="middle" fill="#111" stroke="#111" stroke-width="0.2">P-Src/Src total ratio</text>
<text transform="translate(67.80,359.70) rotate(-90)" x="0" y="3.63" font-size="10.15" font-weight="bold" text-anchor="middle" fill="#111" stroke="#111" stroke-width="0.2">(fold of B-CLL co-cultured</text>
<text transform="translate(80.70,359.70) rotate(-90)" x="0" y="3.63" font-size="10.15" font-weight="bold" text-anchor="middle" fill="#111" stroke="#111" stroke-width="0.2">with NLC, a.u.)</text>
<text x="105.80" y="441.31" font-size="6.45" font-weight="bold" text-anchor="end" fill="#1a1a1a"  stroke="#1a1a1a" stroke-width="0.2">Co-culture with NLC</text>
<text transform="translate(125.00,444.74) scale(1.32,1)" x="0" y="0" font-size="14" font-weight="bold" text-anchor="middle" fill="#111">-</text>
<text x="148.60" y="442.94" font-size="9.5" font-weight="bold" text-anchor="middle" fill="#111" stroke="#111" stroke-width=".3">+</text>
<text x="171.90" y="442.94" font-size="9.5" font-weight="bold" text-anchor="middle" fill="#111" stroke="#111" stroke-width=".3">+</text>
<text x="194.60" y="442.94" font-size="9.5" font-weight="bold" text-anchor="middle" fill="#111" stroke="#111" stroke-width=".3">+</text>
<text x="217.40" y="442.94" font-size="9.5" font-weight="bold" text-anchor="middle" fill="#111" stroke="#111" stroke-width=".3">+</text>
<text x="240.40" y="442.94" font-size="9.5" font-weight="bold" text-anchor="middle" fill="#111" stroke="#111" stroke-width=".3">+</text>
<text x="262.90" y="443.54" font-size="9.5" font-weight="bold" text-anchor="middle" fill="#111" stroke="#111" stroke-width=".3">+</text>
<text x="286.20" y="442.94" font-size="9.5" font-weight="bold" text-anchor="middle" fill="#111" stroke="#111" stroke-width=".3">+</text>
<text x="105.80" y="455.21" font-size="6.45" font-weight="bold" text-anchor="end" fill="#1a1a1a"  stroke="#1a1a1a" stroke-width="0.2">anti-hBAFF</text>
<text transform="translate(125.00,458.84) scale(1.32,1)" x="0" y="0" font-size="14" font-weight="bold" text-anchor="middle" fill="#111">-</text>
<text transform="translate(148.60,458.84) scale(1.32,1)" x="0" y="0" font-size="14" font-weight="bold" text-anchor="middle" fill="#111">-</text>
<text x="171.90" y="456.44" font-size="9.5" font-weight="bold" text-anchor="middle" fill="#111" stroke="#111" stroke-width=".3">+</text>
<text transform="translate(194.60,458.84) scale(1.32,1)" x="0" y="0" font-size="14" font-weight="bold" text-anchor="middle" fill="#111">-</text>
<text transform="translate(217.40,458.84) scale(1.32,1)" x="0" y="0" font-size="14" font-weight="bold" text-anchor="middle" fill="#111">-</text>
<text x="240.40" y="456.44" font-size="9.5" font-weight="bold" text-anchor="middle" fill="#111" stroke="#111" stroke-width=".3">+</text>
<text transform="translate(262.90,459.44) scale(1.32,1)" x="0" y="0" font-size="14" font-weight="bold" text-anchor="middle" fill="#111">-</text>
<text x="286.20" y="456.44" font-size="9.5" font-weight="bold" text-anchor="middle" fill="#111" stroke="#111" stroke-width=".3">+</text>
<text x="104.70" y="469.01" font-size="6.45" font-weight="bold" text-anchor="end" fill="#1a1a1a"  stroke="#1a1a1a" stroke-width="0.2">anti-hAPRIL</text>
<text transform="translate(125.00,473.04) scale(1.32,1)" x="0" y="0" font-size="14" font-weight="bold" text-anchor="middle" fill="#111">-</text>
<text transform="translate(148.60,473.04) scale(1.32,1)" x="0" y="0" font-size="14" font-weight="bold" text-anchor="middle" fill="#111">-</text>
<text transform="translate(171.90,473.04) scale(1.32,1)" x="0" y="0" font-size="14" font-weight="bold" text-anchor="middle" fill="#111">-</text>
<text x="194.60" y="470.04" font-size="9.5" font-weight="bold" text-anchor="middle" fill="#111" stroke="#111" stroke-width=".3">+</text>
<text transform="translate(217.40,473.04) scale(1.32,1)" x="0" y="0" font-size="14" font-weight="bold" text-anchor="middle" fill="#111">-</text>
<text x="240.40" y="470.04" font-size="9.5" font-weight="bold" text-anchor="middle" fill="#111" stroke="#111" stroke-width=".3">+</text>
<text transform="translate(262.90,473.64) scale(1.32,1)" x="0" y="0" font-size="14" font-weight="bold" text-anchor="middle" fill="#111">-</text>
<text x="286.20" y="470.04" font-size="9.5" font-weight="bold" text-anchor="middle" fill="#111" stroke="#111" stroke-width=".3">+</text>
<text x="105.80" y="483.31" font-size="6.45" font-weight="bold" text-anchor="end" fill="#1a1a1a"  stroke="#1a1a1a" stroke-width="0.2">AMD3100</text>
<text transform="translate(125.00,486.54) scale(1.32,1)" x="0" y="0" font-size="14" font-weight="bold" text-anchor="middle" fill="#111">-</text>
<text transform="translate(148.60,486.54) scale(1.32,1)" x="0" y="0" font-size="14" font-weight="bold" text-anchor="middle" fill="#111">-</text>
<text transform="translate(171.90,486.54) scale(1.32,1)" x="0" y="0" font-size="14" font-weight="bold" text-anchor="middle" fill="#111">-</text>
<text transform="translate(194.60,486.54) scale(1.32,1)" x="0" y="0" font-size="14" font-weight="bold" text-anchor="middle" fill="#111">-</text>
<text x="217.40" y="484.54" font-size="9.5" font-weight="bold" text-anchor="middle" fill="#111" stroke="#111" stroke-width=".3">+</text>
<text x="240.40" y="484.54" font-size="9.5" font-weight="bold" text-anchor="middle" fill="#111" stroke="#111" stroke-width=".3">+</text>
<text transform="translate(262.90,487.14) scale(1.32,1)" x="0" y="0" font-size="14" font-weight="bold" text-anchor="middle" fill="#111">-</text>
<text x="286.20" y="484.54" font-size="9.5" font-weight="bold" text-anchor="middle" fill="#111" stroke="#111" stroke-width=".3">+</text>
<text x="105.80" y="496.61" font-size="6.45" font-weight="bold" text-anchor="end" fill="#1a1a1a"  stroke="#1a1a1a" stroke-width="0.2">anti-hBDNF</text>
<text transform="translate(125.00,499.34) scale(1.32,1)" x="0" y="0" font-size="14" font-weight="bold" text-anchor="middle" fill="#111">-</text>
<text transform="translate(148.60,499.34) scale(1.32,1)" x="0" y="0" font-size="14" font-weight="bold" text-anchor="middle" fill="#111">-</text>
<text transform="translate(171.90,499.34) scale(1.32,1)" x="0" y="0" font-size="14" font-weight="bold" text-anchor="middle" fill="#111">-</text>
<text transform="translate(194.60,499.34) scale(1.32,1)" x="0" y="0" font-size="14" font-weight="bold" text-anchor="middle" fill="#111">-</text>
<text transform="translate(217.40,499.34) scale(1.32,1)" x="0" y="0" font-size="14" font-weight="bold" text-anchor="middle" fill="#111">-</text>
<text transform="translate(240.40,499.34) scale(1.32,1)" x="0" y="0" font-size="14" font-weight="bold" text-anchor="middle" fill="#111">-</text>
<text x="262.90" y="497.54" font-size="9.5" font-weight="bold" text-anchor="middle" fill="#111" stroke="#111" stroke-width=".3">+</text>
<text x="286.20" y="498.44" font-size="9.5" font-weight="bold" text-anchor="middle" fill="#111" stroke="#111" stroke-width=".3">+</text>
<text x="206.40" y="273.38" font-size="10" font-weight="normal" text-anchor="middle" fill="#111" stroke="#111" stroke-width=".5">ns</text>
<line x1="128.50" y1="278.50" x2="283.50" y2="278.50" stroke="#666" stroke-width="1.0" />
<line x1="128.50" y1="278.00" x2="128.50" y2="281.30" stroke="#666" stroke-width="1.0" />
<line x1="283.50" y1="278.00" x2="283.50" y2="281.30" stroke="#666" stroke-width="1.0" />
<line x1="151.00" y1="294.70" x2="151.00" y2="328.90" stroke="#666" stroke-width="1" />
<line x1="150.80" y1="295.50" x2="283.80" y2="295.50" stroke="#666" stroke-width="1.0" />
<line x1="150.80" y1="311.00" x2="262.00" y2="311.00" stroke="#777" stroke-width="1.0" />
<line x1="128.60" y1="324.50" x2="150.80" y2="324.50" stroke="#666" stroke-width="1.0" />
<text x="217.70" y="294.57" font-size="14.4" font-weight="bold" text-anchor="middle" fill="#111" >**</text>
<text x="214.70" y="310.37" font-size="14.4" font-weight="bold" text-anchor="middle" fill="#111" >*</text>
<text x="140.00" y="325.17" font-size="14.4" font-weight="bold" text-anchor="middle" fill="#111" >***</text>
<text x="366.30" y="288.40" font-size="25" font-weight="bold" text-anchor="start" fill="#111" stroke="#111" stroke-width=".6">d</text>
<text x="552.70" y="289.98" font-size="12.5" font-weight="bold" text-anchor="middle" fill="#111"  stroke="#111" stroke-width="0.2">Bcl-2</text>
<line x1="474.00" y1="371.30" x2="474.00" y2="363.60" stroke="#2525C8" stroke-width="1.3" />
<line x1="469.70" y1="363.60" x2="478.30" y2="363.60" stroke="#2525C8" stroke-width="1.3" />
<rect x="466.40" y="371.30" width="15.20" height="58.95" fill="#2525C8" />
<rect x="489.10" y="346.10" width="15.20" height="84.15" fill="#B41A1A" />
<line x1="519.60" y1="352.60" x2="519.60" y2="350.50" stroke="#00C800" stroke-width="1.3" />
<line x1="515.30" y1="350.50" x2="523.90" y2="350.50" stroke="#00C800" stroke-width="1.3" />
<rect x="512.00" y="352.60" width="15.20" height="77.65" fill="#00C800" />
<line x1="542.40" y1="350.10" x2="542.40" y2="340.10" stroke="#9129B5" stroke-width="1.3" />
<line x1="538.10" y1="340.10" x2="546.70" y2="340.10" stroke="#9129B5" stroke-width="1.3" />
<rect x="534.80" y="350.10" width="15.20" height="80.15" fill="#9129B5" />
<line x1="565.20" y1="356.30" x2="565.20" y2="352.90" stroke="#E38400" stroke-width="1.3" />
<line x1="560.90" y1="352.90" x2="569.50" y2="352.90" stroke="#E38400" stroke-width="1.3" />
<rect x="557.60" y="356.30" width="15.20" height="73.95" fill="#E38400" />
<line x1="587.80" y1="367.20" x2="587.80" y2="350.40" stroke="#A5772B" stroke-width="1.3" />
<line x1="583.50" y1="350.40" x2="592.10" y2="350.40" stroke="#A5772B" stroke-width="1.3" />
<rect x="580.20" y="367.20" width="15.20" height="63.05" fill="#A5772B" />
<line x1="610.70" y1="367.40" x2="610.70" y2="349.80" stroke="#00808C" stroke-width="1.3" />
<line x1="606.40" y1="349.80" x2="615.00" y2="349.80" stroke="#00808C" stroke-width="1.3" />
<rect x="603.10" y="367.40" width="15.20" height="62.85" fill="#00808C" />
<line x1="633.50" y1="375.20" x2="633.50" y2="366.50" stroke="#8E8C8C" stroke-width="1.3" />
<line x1="629.20" y1="366.50" x2="637.80" y2="366.50" stroke="#8E8C8C" stroke-width="1.3" />
<rect x="625.90" y="375.20" width="15.20" height="55.05" fill="#8E8C8C" />
<line x1="458.85" y1="302.95" x2="458.85" y2="431.25" stroke="#000" stroke-width="2.0" />
<line x1="457.85" y1="430.25" x2="649.00" y2="430.25" stroke="#000" stroke-width="2.0" />
<line x1="455.45" y1="430.25" x2="458.85" y2="430.25" stroke="#000" stroke-width="2.0" />
<text x="453.10" y="433.65" font-size="9.5" font-weight="bold" text-anchor="end" fill="#111"  stroke="#111" stroke-width="0.2">0.0</text>
<line x1="455.45" y1="388.15" x2="458.85" y2="388.15" stroke="#000" stroke-width="2.0" />
<text x="453.10" y="391.55" font-size="9.5" font-weight="bold" text-anchor="end" fill="#111"  stroke="#111" stroke-width="0.2">0.5</text>
<line x1="455.45" y1="346.05" x2="458.85" y2="346.05" stroke="#000" stroke-width="2.0" />
<text x="453.10" y="349.45" font-size="9.5" font-weight="bold" text-anchor="end" fill="#111"  stroke="#111" stroke-width="0.2">1.0</text>
<line x1="455.45" y1="303.95" x2="458.85" y2="303.95" stroke="#000" stroke-width="2.0" />
<text x="453.10" y="307.35" font-size="9.5" font-weight="bold" text-anchor="end" fill="#111"  stroke="#111" stroke-width="0.2">1.5</text>
<text transform="translate(402.90,366.60) rotate(-90)" x="0" y="3.63" font-size="10.15" font-weight="bold" text-anchor="middle" fill="#111" stroke="#111" stroke-width="0.2">Bcl-2 relative expression</text>
<text transform="translate(415.80,366.60) rotate(-90)" x="0" y="3.63" font-size="10.15" font-weight="bold" text-anchor="middle" fill="#111" stroke="#111" stroke-width="0.2">(fold of B-CLL co-cultured</text>
<text transform="translate(428.80,366.60) rotate(-90)" x="0" y="3.63" font-size="10.15" font-weight="bold" text-anchor="middle" fill="#111" stroke="#111" stroke-width="0.2">with NLC, a.u.)</text>
<text x="453.30" y="446.41" font-size="6.45" font-weight="bold" text-anchor="end" fill="#1a1a1a"  stroke="#1a1a1a" stroke-width="0.2">Co-culture with NLC</text>
<text transform="translate(472.30,449.94) scale(1.32,1)" x="0" y="0" font-size="14" font-weight="bold" text-anchor="middle" fill="#111">-</text>
<text x="495.80" y="447.94" font-size="9.5" font-weight="bold" text-anchor="middle" fill="#111" stroke="#111" stroke-width=".3">+</text>
<text x="519.10" y="447.94" font-size="9.5" font-weight="bold" text-anchor="middle" fill="#111" stroke="#111" stroke-width=".3">+</text>
<text x="541.90" y="447.94" font-size="9.5" font-weight="bold" text-anchor="middle" fill="#111" stroke="#111" stroke-width=".3">+</text>
<text x="564.60" y="447.94" font-size="9.5" font-weight="bold" text-anchor="middle" fill="#111" stroke="#111" stroke-width=".3">+</text>
<text x="587.70" y="447.94" font-size="9.5" font-weight="bold" text-anchor="middle" fill="#111" stroke="#111" stroke-width=".3">+</text>
<text x="610.10" y="448.54" font-size="9.5" font-weight="bold" text-anchor="middle" fill="#111" stroke="#111" stroke-width=".3">+</text>
<text x="633.40" y="447.94" font-size="9.5" font-weight="bold" text-anchor="middle" fill="#111" stroke="#111" stroke-width=".3">+</text>
<text x="453.30" y="460.61" font-size="6.45" font-weight="bold" text-anchor="end" fill="#1a1a1a"  stroke="#1a1a1a" stroke-width="0.2">anti-hBAFF</text>
<text transform="translate(472.30,463.84) scale(1.32,1)" x="0" y="0" font-size="14" font-weight="bold" text-anchor="middle" fill="#111">-</text>
<text transform="translate(495.80,463.84) scale(1.32,1)" x="0" y="0" font-size="14" font-weight="bold" text-anchor="middle" fill="#111">-</text>
<text x="519.10" y="461.44" font-size="9.5" font-weight="bold" text-anchor="middle" fill="#111" stroke="#111" stroke-width=".3">+</text>
<text transform="translate(541.90,463.84) scale(1.32,1)" x="0" y="0" font-size="14" font-weight="bold" text-anchor="middle" fill="#111">-</text>
<text transform="translate(564.60,463.84) scale(1.32,1)" x="0" y="0" font-size="14" font-weight="bold" text-anchor="middle" fill="#111">-</text>
<text x="587.70" y="461.44" font-size="9.5" font-weight="bold" text-anchor="middle" fill="#111" stroke="#111" stroke-width=".3">+</text>
<text transform="translate(610.10,464.44) scale(1.32,1)" x="0" y="0" font-size="14" font-weight="bold" text-anchor="middle" fill="#111">-</text>
<text x="633.40" y="461.44" font-size="9.5" font-weight="bold" text-anchor="middle" fill="#111" stroke="#111" stroke-width=".3">+</text>
<text x="452.20" y="474.71" font-size="6.45" font-weight="bold" text-anchor="end" fill="#1a1a1a"  stroke="#1a1a1a" stroke-width="0.2">anti-hAPRIL</text>
<text transform="translate(472.30,478.04) scale(1.32,1)" x="0" y="0" font-size="14" font-weight="bold" text-anchor="middle" fill="#111">-</text>
<text transform="translate(495.80,478.04) scale(1.32,1)" x="0" y="0" font-size="14" font-weight="bold" text-anchor="middle" fill="#111">-</text>
<text transform="translate(519.10,478.04) scale(1.32,1)" x="0" y="0" font-size="14" font-weight="bold" text-anchor="middle" fill="#111">-</text>
<text x="541.90" y="475.04" font-size="9.5" font-weight="bold" text-anchor="middle" fill="#111" stroke="#111" stroke-width=".3">+</text>
<text transform="translate(564.60,478.04) scale(1.32,1)" x="0" y="0" font-size="14" font-weight="bold" text-anchor="middle" fill="#111">-</text>
<text x="587.70" y="475.04" font-size="9.5" font-weight="bold" text-anchor="middle" fill="#111" stroke="#111" stroke-width=".3">+</text>
<text transform="translate(610.10,478.64) scale(1.32,1)" x="0" y="0" font-size="14" font-weight="bold" text-anchor="middle" fill="#111">-</text>
<text x="633.40" y="475.04" font-size="9.5" font-weight="bold" text-anchor="middle" fill="#111" stroke="#111" stroke-width=".3">+</text>
<text x="453.30" y="488.61" font-size="6.45" font-weight="bold" text-anchor="end" fill="#1a1a1a"  stroke="#1a1a1a" stroke-width="0.2">AMD3100</text>
<text transform="translate(472.30,491.54) scale(1.32,1)" x="0" y="0" font-size="14" font-weight="bold" text-anchor="middle" fill="#111">-</text>
<text transform="translate(495.80,491.54) scale(1.32,1)" x="0" y="0" font-size="14" font-weight="bold" text-anchor="middle" fill="#111">-</text>
<text transform="translate(519.10,491.54) scale(1.32,1)" x="0" y="0" font-size="14" font-weight="bold" text-anchor="middle" fill="#111">-</text>
<text transform="translate(541.90,491.54) scale(1.32,1)" x="0" y="0" font-size="14" font-weight="bold" text-anchor="middle" fill="#111">-</text>
<text x="564.60" y="489.54" font-size="9.5" font-weight="bold" text-anchor="middle" fill="#111" stroke="#111" stroke-width=".3">+</text>
<text x="587.70" y="489.54" font-size="9.5" font-weight="bold" text-anchor="middle" fill="#111" stroke="#111" stroke-width=".3">+</text>
<text transform="translate(610.10,492.14) scale(1.32,1)" x="0" y="0" font-size="14" font-weight="bold" text-anchor="middle" fill="#111">-</text>
<text x="633.40" y="489.54" font-size="9.5" font-weight="bold" text-anchor="middle" fill="#111" stroke="#111" stroke-width=".3">+</text>
<text x="453.30" y="502.01" font-size="6.45" font-weight="bold" text-anchor="end" fill="#1a1a1a"  stroke="#1a1a1a" stroke-width="0.2">anti-hBDNF</text>
<text transform="translate(472.30,504.64) scale(1.32,1)" x="0" y="0" font-size="14" font-weight="bold" text-anchor="middle" fill="#111">-</text>
<text transform="translate(495.80,504.64) scale(1.32,1)" x="0" y="0" font-size="14" font-weight="bold" text-anchor="middle" fill="#111">-</text>
<text transform="translate(519.10,504.64) scale(1.32,1)" x="0" y="0" font-size="14" font-weight="bold" text-anchor="middle" fill="#111">-</text>
<text transform="translate(541.90,504.64) scale(1.32,1)" x="0" y="0" font-size="14" font-weight="bold" text-anchor="middle" fill="#111">-</text>
<text transform="translate(564.60,504.64) scale(1.32,1)" x="0" y="0" font-size="14" font-weight="bold" text-anchor="middle" fill="#111">-</text>
<text transform="translate(587.70,504.64) scale(1.32,1)" x="0" y="0" font-size="14" font-weight="bold" text-anchor="middle" fill="#111">-</text>
<text x="610.10" y="502.54" font-size="9.5" font-weight="bold" text-anchor="middle" fill="#111" stroke="#111" stroke-width=".3">+</text>
<text x="633.40" y="503.44" font-size="9.5" font-weight="bold" text-anchor="middle" fill="#111" stroke="#111" stroke-width=".3">+</text>
<text x="549.70" y="306.78" font-size="10" font-weight="normal" text-anchor="middle" fill="#111" stroke="#111" stroke-width=".5">ns</text>
<line x1="474.50" y1="312.50" x2="628.50" y2="312.50" stroke="#444" stroke-width="1.0" />
<line x1="474.50" y1="312.00" x2="474.50" y2="315.30" stroke="#444" stroke-width="1.0" />
<line x1="628.50" y1="312.00" x2="628.50" y2="315.30" stroke="#444" stroke-width="1.0" />
<line x1="495.00" y1="326.70" x2="628.20" y2="326.70" stroke="#999" stroke-width="1.3" />
<line x1="471.60" y1="338.50" x2="495.00" y2="338.50" stroke="#444" stroke-width="1.0" />
<text x="561.40" y="327.77" font-size="14.4" font-weight="bold" text-anchor="middle" fill="#111" >*</text>
<text x="483.20" y="338.87" font-size="14.4" font-weight="bold" text-anchor="middle" fill="#111" >**</text>
<text x="14.50" y="535.80" font-size="24" font-weight="bold" text-anchor="start" fill="#111" stroke="#111" stroke-width=".6">e</text>
<line x1="100.60" y1="607.10" x2="100.60" y2="592.30" stroke="#2525C8" stroke-width="1.3" />
<line x1="95.70" y1="592.30" x2="105.50" y2="592.30" stroke="#2525C8" stroke-width="1.3" />
<rect x="91.85" y="607.10" width="17.50" height="122.70" fill="#2525C8" />
<rect x="118.15" y="657.20" width="17.50" height="72.60" fill="#B41A1A" />
<line x1="152.90" y1="648.10" x2="152.90" y2="644.10" stroke="#00C800" stroke-width="1.3" />
<line x1="148.00" y1="644.10" x2="157.80" y2="644.10" stroke="#00C800" stroke-width="1.3" />
<rect x="144.15" y="648.10" width="17.50" height="81.70" fill="#00C800" />
<line x1="179.20" y1="644.40" x2="179.20" y2="640.40" stroke="#9129B5" stroke-width="1.3" />
<line x1="174.30" y1="640.40" x2="184.10" y2="640.40" stroke="#9129B5" stroke-width="1.3" />
<rect x="170.45" y="644.40" width="17.50" height="85.40" fill="#9129B5" />
<line x1="205.60" y1="637.60" x2="205.60" y2="632.00" stroke="#E38400" stroke-width="1.3" />
<line x1="200.70" y1="632.00" x2="210.50" y2="632.00" stroke="#E38400" stroke-width="1.3" />
<rect x="196.85" y="637.60" width="17.50" height="92.20" fill="#E38400" />
<line x1="231.90" y1="630.90" x2="231.90" y2="625.90" stroke="#A5772B" stroke-width="1.3" />
<line x1="227.00" y1="625.90" x2="236.80" y2="625.90" stroke="#A5772B" stroke-width="1.3" />
<rect x="223.15" y="630.90" width="17.50" height="98.90" fill="#A5772B" />
<line x1="258.10" y1="637.60" x2="258.10" y2="632.30" stroke="#00808C" stroke-width="1.3" />
<line x1="253.20" y1="632.30" x2="263.00" y2="632.30" stroke="#00808C" stroke-width="1.3" />
<rect x="249.35" y="637.60" width="17.50" height="92.20" fill="#00808C" />
<line x1="284.40" y1="623.70" x2="284.40" y2="615.50" stroke="#8E8C8C" stroke-width="1.3" />
<line x1="279.50" y1="615.50" x2="289.30" y2="615.50" stroke="#8E8C8C" stroke-width="1.3" />
<rect x="275.65" y="623.70" width="17.50" height="106.10" fill="#8E8C8C" />
<line x1="83.20" y1="583.60" x2="83.20" y2="730.80" stroke="#000" stroke-width="2.0" />
<line x1="82.20" y1="729.80" x2="302.00" y2="729.80" stroke="#000" stroke-width="2.0" />
<line x1="79.80" y1="729.80" x2="83.20" y2="729.80" stroke="#000" stroke-width="2.0" />
<text x="76.00" y="733.49" font-size="10.3" font-weight="bold" text-anchor="end" fill="#111"  stroke="#111" stroke-width="0.2">0.0</text>
<line x1="79.80" y1="693.50" x2="83.20" y2="693.50" stroke="#000" stroke-width="2.0" />
<text x="76.00" y="697.19" font-size="10.3" font-weight="bold" text-anchor="end" fill="#111"  stroke="#111" stroke-width="0.2">0.5</text>
<line x1="79.80" y1="657.20" x2="83.20" y2="657.20" stroke="#000" stroke-width="2.0" />
<text x="76.00" y="660.89" font-size="10.3" font-weight="bold" text-anchor="end" fill="#111"  stroke="#111" stroke-width="0.2">1.0</text>
<line x1="79.80" y1="620.90" x2="83.20" y2="620.90" stroke="#000" stroke-width="2.0" />
<text x="76.00" y="624.59" font-size="10.3" font-weight="bold" text-anchor="end" fill="#111"  stroke="#111" stroke-width="0.2">1.5</text>
<line x1="79.80" y1="584.60" x2="83.20" y2="584.60" stroke="#000" stroke-width="2.0" />
<text x="76.00" y="588.29" font-size="10.3" font-weight="bold" text-anchor="end" fill="#111"  stroke="#111" stroke-width="0.2">2.0</text>
<text transform="translate(27.70,657.00) rotate(-90)" x="0" y="4.21" font-size="11.75" font-weight="bold" text-anchor="middle" fill="#111" stroke="#111" stroke-width="0.2">Cell death ratio</text>
<text transform="translate(42.20,657.00) rotate(-90)" x="0" y="4.21" font-size="11.75" font-weight="bold" text-anchor="middle" fill="#111" stroke="#111" stroke-width="0.2">(a.u., fold of B-CLL + NLC)</text>
<text x="80.20" y="744.01" font-size="6.45" font-weight="bold" text-anchor="end" fill="#1a1a1a"  stroke="#1a1a1a" stroke-width="0.2">Co-culture with NLC</text>
<text transform="translate(99.60,747.74) scale(1.32,1)" x="0" y="0" font-size="14" font-weight="bold" text-anchor="middle" fill="#111">-</text>
<text x="126.90" y="745.44" font-size="9.5" font-weight="bold" text-anchor="middle" fill="#111" stroke="#111" stroke-width=".3">+</text>
<text x="153.20" y="745.44" font-size="9.5" font-weight="bold" text-anchor="middle" fill="#111" stroke="#111" stroke-width=".3">+</text>
<text x="179.50" y="745.44" font-size="9.5" font-weight="bold" text-anchor="middle" fill="#111" stroke="#111" stroke-width=".3">+</text>
<text x="206.50" y="745.44" font-size="9.5" font-weight="bold" text-anchor="middle" fill="#111" stroke="#111" stroke-width=".3">+</text>
<text x="232.50" y="745.44" font-size="9.5" font-weight="bold" text-anchor="middle" fill="#111" stroke="#111" stroke-width=".3">+</text>
<text x="259.50" y="746.04" font-size="9.5" font-weight="bold" text-anchor="middle" fill="#111" stroke="#111" stroke-width=".3">+</text>
<text x="286.10" y="745.44" font-size="9.5" font-weight="bold" text-anchor="middle" fill="#111" stroke="#111" stroke-width=".3">+</text>
<text x="80.20" y="757.91" font-size="6.45" font-weight="bold" text-anchor="end" fill="#1a1a1a"  stroke="#1a1a1a" stroke-width="0.2">anti-hBAFF</text>
<text transform="translate(99.60,761.84) scale(1.32,1)" x="0" y="0" font-size="14" font-weight="bold" text-anchor="middle" fill="#111">-</text>
<text transform="translate(126.90,761.84) scale(1.32,1)" x="0" y="0" font-size="14" font-weight="bold" text-anchor="middle" fill="#111">-</text>
<text x="153.20" y="759.53" font-size="9.5" font-weight="bold" text-anchor="middle" fill="#111" stroke="#111" stroke-width=".3">+</text>
<text transform="translate(179.50,761.84) scale(1.32,1)" x="0" y="0" font-size="14" font-weight="bold" text-anchor="middle" fill="#111">-</text>
<text transform="translate(206.50,761.84) scale(1.32,1)" x="0" y="0" font-size="14" font-weight="bold" text-anchor="middle" fill="#111">-</text>
<text x="232.50" y="759.53" font-size="9.5" font-weight="bold" text-anchor="middle" fill="#111" stroke="#111" stroke-width=".3">+</text>
<text transform="translate(259.50,762.44) scale(1.32,1)" x="0" y="0" font-size="14" font-weight="bold" text-anchor="middle" fill="#111">-</text>
<text x="286.10" y="759.53" font-size="9.5" font-weight="bold" text-anchor="middle" fill="#111" stroke="#111" stroke-width=".3">+</text>
<text x="79.10" y="771.71" font-size="6.45" font-weight="bold" text-anchor="end" fill="#1a1a1a"  stroke="#1a1a1a" stroke-width="0.2">anti-hAPRIL</text>
<text transform="translate(99.60,775.94) scale(1.32,1)" x="0" y="0" font-size="14" font-weight="bold" text-anchor="middle" fill="#111">-</text>
<text transform="translate(126.90,775.94) scale(1.32,1)" x="0" y="0" font-size="14" font-weight="bold" text-anchor="middle" fill="#111">-</text>
<text transform="translate(153.20,775.94) scale(1.32,1)" x="0" y="0" font-size="14" font-weight="bold" text-anchor="middle" fill="#111">-</text>
<text x="179.50" y="773.03" font-size="9.5" font-weight="bold" text-anchor="middle" fill="#111" stroke="#111" stroke-width=".3">+</text>
<text transform="translate(206.50,775.94) scale(1.32,1)" x="0" y="0" font-size="14" font-weight="bold" text-anchor="middle" fill="#111">-</text>
<text x="232.50" y="773.03" font-size="9.5" font-weight="bold" text-anchor="middle" fill="#111" stroke="#111" stroke-width=".3">+</text>
<text transform="translate(259.50,776.54) scale(1.32,1)" x="0" y="0" font-size="14" font-weight="bold" text-anchor="middle" fill="#111">-</text>
<text x="286.10" y="773.03" font-size="9.5" font-weight="bold" text-anchor="middle" fill="#111" stroke="#111" stroke-width=".3">+</text>
<text x="80.20" y="786.01" font-size="6.45" font-weight="bold" text-anchor="end" fill="#1a1a1a"  stroke="#1a1a1a" stroke-width="0.2">AMD3100</text>
<text transform="translate(99.60,789.74) scale(1.32,1)" x="0" y="0" font-size="14" font-weight="bold" text-anchor="middle" fill="#111">-</text>
<text transform="translate(126.90,789.74) scale(1.32,1)" x="0" y="0" font-size="14" font-weight="bold" text-anchor="middle" fill="#111">-</text>
<text transform="translate(153.20,789.74) scale(1.32,1)" x="0" y="0" font-size="14" font-weight="bold" text-anchor="middle" fill="#111">-</text>
<text transform="translate(179.50,789.74) scale(1.32,1)" x="0" y="0" font-size="14" font-weight="bold" text-anchor="middle" fill="#111">-</text>
<text x="206.50" y="787.13" font-size="9.5" font-weight="bold" text-anchor="middle" fill="#111" stroke="#111" stroke-width=".3">+</text>
<text x="232.50" y="787.13" font-size="9.5" font-weight="bold" text-anchor="middle" fill="#111" stroke="#111" stroke-width=".3">+</text>
<text transform="translate(259.50,790.34) scale(1.32,1)" x="0" y="0" font-size="14" font-weight="bold" text-anchor="middle" fill="#111">-</text>
<text x="286.10" y="787.13" font-size="9.5" font-weight="bold" text-anchor="middle" fill="#111" stroke="#111" stroke-width=".3">+</text>
<text x="80.20" y="799.31" font-size="6.45" font-weight="bold" text-anchor="end" fill="#1a1a1a"  stroke="#1a1a1a" stroke-width="0.2">anti-hBDNF</text>
<text transform="translate(99.60,802.64) scale(1.32,1)" x="0" y="0" font-size="14" font-weight="bold" text-anchor="middle" fill="#111">-</text>
<text transform="translate(126.90,802.64) scale(1.32,1)" x="0" y="0" font-size="14" font-weight="bold" text-anchor="middle" fill="#111">-</text>
<text transform="translate(153.20,802.64) scale(1.32,1)" x="0" y="0" font-size="14" font-weight="bold" text-anchor="middle" fill="#111">-</text>
<text transform="translate(179.50,802.64) scale(1.32,1)" x="0" y="0" font-size="14" font-weight="bold" text-anchor="middle" fill="#111">-</text>
<text transform="translate(206.50,802.64) scale(1.32,1)" x="0" y="0" font-size="14" font-weight="bold" text-anchor="middle" fill="#111">-</text>
<text transform="translate(232.50,802.64) scale(1.32,1)" x="0" y="0" font-size="14" font-weight="bold" text-anchor="middle" fill="#111">-</text>
<text x="259.50" y="800.63" font-size="9.5" font-weight="bold" text-anchor="middle" fill="#111" stroke="#111" stroke-width=".3">+</text>
<text x="286.10" y="801.53" font-size="9.5" font-weight="bold" text-anchor="middle" fill="#111" stroke="#111" stroke-width=".3">+</text>
<text x="192.60" y="526.47" font-size="10.8" font-weight="normal" text-anchor="middle" fill="#111" stroke="#111" stroke-width=".25">ns</text>
<line x1="104.50" y1="530.50" x2="283.50" y2="530.50" stroke="#444" stroke-width="1.0" />
<line x1="104.50" y1="530.00" x2="104.50" y2="533.30" stroke="#444" stroke-width="1.0" />
<line x1="283.50" y1="530.00" x2="283.50" y2="533.30" stroke="#444" stroke-width="1.0" />
<line x1="128.50" y1="548.40" x2="128.50" y2="648.90" stroke="#444" stroke-width="1" />
<line x1="128.90" y1="548.50" x2="282.80" y2="548.50" stroke="#555" stroke-width="1.0" />
<line x1="128.90" y1="567.50" x2="257.40" y2="567.50" stroke="#666" stroke-width="1.0" />
<line x1="128.90" y1="594.50" x2="230.50" y2="594.50" stroke="#555" stroke-width="1.0" />
<line x1="128.90" y1="613.50" x2="202.70" y2="613.50" stroke="#555" stroke-width="1.0" />
<line x1="104.30" y1="584.50" x2="128.90" y2="584.50" stroke="#555" stroke-width="1.0" />
<text x="205.40" y="548.27" font-size="14.4" font-weight="bold" text-anchor="middle" fill="#111" >***</text>
<text x="192.60" y="566.27" font-size="14.4" font-weight="bold" text-anchor="middle" fill="#111" >*</text>
<text x="180.30" y="593.87" font-size="14.4" font-weight="bold" text-anchor="middle" fill="#111" >**</text>
<text x="165.30" y="612.27" font-size="14.4" font-weight="bold" text-anchor="middle" fill="#111" >*</text>
<text x="116.00" y="582.67" font-size="14.4" font-weight="bold" text-anchor="middle" fill="#111" >***</text>
<text x="369.20" y="535.60" font-size="24" font-weight="bold" text-anchor="start" fill="#111" stroke="#111" stroke-width=".6">f</text>
<path d="M344.7,633.3 C344.5,632.0 345.2,631.3 346.0,630.7 C346.8,630.1 348.0,629.8 349.3,630.0 C350.6,630.2 351.6,631.0 353.3,631.7 C355.0,632.4 356.5,633.9 358.5,633.9 C360.5,633.9 361.7,632.5 364.4,631.7 C367.1,630.9 370.1,630.0 373.6,629.4 C377.1,628.8 380.1,628.5 384.1,628.4 C388.1,628.3 396.0,628.7 396.0,628.7 C396.0,628.7 398.2,625.4 399.9,623.4 C401.6,621.4 403.4,619.0 405.3,617.7 C407.2,616.4 408.6,616.0 410.5,616.0 C412.4,616.0 413.4,616.3 415.8,617.5 C418.2,618.7 420.6,620.6 423.7,622.7 C426.8,624.8 429.6,627.0 432.9,629.3 C436.2,631.5 439.2,633.7 442.0,635.2 C444.8,636.7 446.2,637.7 448.6,637.9 C451.0,638.1 452.8,637.3 455.2,636.5 C457.6,635.7 459.8,634.2 461.8,633.6 C463.8,633.0 465.3,632.6 466.4,632.9 C467.5,633.2 468.5,633.8 468.1,635.2 C467.7,636.6 465.9,638.6 464.4,640.5 C462.9,642.4 460.4,643.3 459.8,645.7 C459.2,648.1 460.3,650.5 461.1,653.6 C461.9,656.7 463.2,659.3 464.4,662.8 C465.6,666.3 467.2,670.7 467.7,673.3 C468.2,675.9 467.8,676.0 467.3,677.5 C466.8,679.0 465.3,679.7 465.0,681.6 C464.7,683.5 464.9,685.5 465.7,688.1 C466.5,690.7 467.8,693.3 469.6,696.0 C471.4,698.7 473.5,700.8 475.6,703.3 C477.7,705.8 480.7,708.2 481.5,709.8 C482.3,711.4 481.6,712.1 480.2,712.4 C478.8,712.7 476.7,712.0 473.6,711.5 C470.5,711.0 466.5,710.0 463.1,709.4 C459.7,708.8 454.5,708.1 454.5,708.1 C454.5,708.1 453.2,710.5 451.9,712.5 C450.6,714.5 449.0,717.2 447.3,719.0 C445.6,720.8 444.2,722.1 442.7,722.6 C441.2,723.1 440.0,722.2 438.8,721.6 C437.6,721.0 436.1,719.4 436.1,719.4 C436.1,719.4 432.7,722.1 430.2,724.3 C427.7,726.5 425.1,729.0 422.3,731.5 C419.5,734.0 416.9,736.4 414.5,738.1 C412.1,739.8 411.0,740.6 409.1,741.0 C407.2,741.4 406.6,741.7 403.8,740.3 C401.0,738.9 397.1,736.2 393.3,733.1 C389.5,730.0 385.8,725.6 382.8,723.2 C379.8,720.8 376.9,719.9 376.9,719.9 C376.9,719.9 374.3,728.5 374.3,728.5 C374.3,728.5 370.3,723.6 368.4,721.2 C366.5,718.8 363.8,715.3 363.8,715.3 C363.8,715.3 358.6,716.3 355.2,717.3 C351.8,718.3 347.7,720.2 344.7,720.6 C341.7,721.0 338.8,719.3 338.8,719.3 C338.8,719.3 340.6,714.7 340.8,712.0 C341.0,709.3 339.8,707.5 339.7,704.2 C339.6,700.9 339.6,697.5 340.1,693.7 C340.6,689.9 341.6,686.8 342.7,683.1 C343.8,679.4 346.0,673.3 346.0,673.3 C346.0,673.3 341.6,676.5 339.5,677.2 C337.4,677.9 335.5,678.0 334.2,677.2 C332.9,676.4 332.1,674.2 332.2,672.6 C332.3,671.0 333.6,670.3 334.9,668.1 C336.2,665.9 337.7,663.0 339.5,660.2 C341.3,657.4 343.0,654.7 344.7,652.3 C346.4,649.9 347.9,648.7 348.7,647.0 C349.5,645.3 349.6,644.7 349.3,643.1 C349.0,641.5 348.1,639.7 347.3,637.9 C346.5,636.1 344.9,634.6 344.7,633.3Z" fill="#d6f5ee" stroke="#111" stroke-width="1.0" stroke-linejoin="round"/>
<ellipse cx="392" cy="685.9" rx="34.8" ry="30.9" fill="#8fd3c0" stroke="#6fae9d" stroke-width="0.8"/>
<text x="390.40" y="691.76" font-size="18.6" font-weight="bold" text-anchor="middle" fill="#0a0a0a" >NLC</text>
<ellipse cx="620.5" cy="678.4" rx="66.2" ry="57.6" fill="#bcc6dd" stroke="#222" stroke-width="1"/>
<ellipse cx="624.7" cy="681.7" rx="51.1" ry="44.7" fill="#8a9cc5" stroke="#7f90b8" stroke-width="0.6"/>
<text x="619.70" y="695.82" font-size="19.6" font-weight="bold" text-anchor="middle" fill="#0a0a0a" >B-CLL</text>
<polygon points="485.5,588.6 475.0,582.0 478.0,569.9 490.4,569.0 495.1,580.6" fill="#ff2d87"/>
<circle cx="475.5" cy="761.7" r="9.1" fill="#ff6a10"/>
<polygon points="465.7,798.3 455.1,794.2 455.7,783.0 466.6,780.0 472.8,789.5" fill="#12bdf2"/>
<polygon points="518.9,794.5 508.7,789.5 510.3,778.3 521.4,776.4 526.7,786.3" fill="#cc00ff"/>
<text x="495.30" y="575.00" font-size="15.2" font-weight="bold" text-anchor="start" fill="#111" >BDNF</text>
<text x="486.30" y="767.90" font-size="15.45" font-weight="bold" text-anchor="start" fill="#111" >CXCL12</text>
<text x="468.40" y="804.00" font-size="15" font-weight="bold" text-anchor="start" fill="#111" >BAFF</text>
<text x="520.60" y="803.00" font-size="15" font-weight="bold" text-anchor="start" fill="#111" >APRIL</text>
<path d="M403.8,608.2 C408,590 430,575.5 456,578" fill="none" stroke="#111" stroke-width="1.8" stroke-dasharray="4 3.2"/>
<path d="M465.2,578.8 L455.4,574.2 L456.4,583.4Z" fill="#111" stroke="none" stroke-width="1" />
<path d="M413.4,746.5 C408.5,757 410.5,767.6 428,768.3 L447,768.6" fill="none" stroke="#111" stroke-width="1.8" stroke-dasharray="4 3.2"/>
<path d="M457.0,768.2 L447.4,763.6 L447.8,773.2Z" fill="#111" stroke="none" stroke-width="1" />
<line x1="540.50" y1="588.00" x2="577.73" y2="614.00" stroke="#0a0a0a" stroke-width="3.5" />
<path d="M585.6,619.5 L572.1,618.5 L580.0,607.2Z" fill="#0a0a0a" stroke="none" stroke-width="1" />
<line x1="555.00" y1="768.40" x2="589.08" y2="746.92" stroke="#0a0a0a" stroke-width="3.5" />
<path d="M597.2,741.8 L591.1,753.8 L583.7,742.1Z" fill="#0a0a0a" stroke="none" stroke-width="1" />
<path d="M599.6,579.4 L606.9,588.6 L602.5,588.6 L602.5,596.8 L596.7,596.8 L596.7,588.6 L592.3000000000001,588.6Z" fill="#1fad1f" stroke="none" stroke-width="1" />
<path d="M604.3,737.8 L611.5999999999999,747.0 L607.1999999999999,747.0 L607.1999999999999,754.4 L601.4,754.4 L601.4,747.0 L597.0,747.0Z" fill="#1fad1f" stroke="none" stroke-width="1" />
<text x="616.00" y="596.40" font-size="14" font-weight="bold" text-anchor="start" fill="#111" >Survival</text>
<text x="598.20" y="613.40" font-size="13.85" font-weight="bold" text-anchor="start" fill="#111" >(p-Src, Bcl-2)</text>
<text x="614.80" y="752.60" font-size="14" font-weight="bold" text-anchor="start" fill="#111" >Survival</text>
<path d="M493.0,599.8 L515.8,631.0 L548.0,611.0" fill="none" stroke="#ee2a14" stroke-width="3.9" stroke-linejoin="miter"/>
<line x1="499.62" y1="594.96" x2="486.38" y2="604.64" stroke="#ee2a14" stroke-width="3.9" />
<line x1="552.33" y1="617.97" x2="543.67" y2="604.03" stroke="#ee2a14" stroke-width="3.9" />
<path d="M504.6,746.2 L530.4,720.6 L560.0,743.6" fill="none" stroke="#ee2a14" stroke-width="3.9" stroke-linejoin="miter"/>
<line x1="498.82" y1="740.38" x2="510.38" y2="752.02" stroke="#ee2a14" stroke-width="3.9" />
<line x1="554.97" y1="750.08" x2="565.03" y2="737.12" stroke="#ee2a14" stroke-width="3.9" />
<path d="M524.6,630.5 L524.2,641.6 M513.0,638.6 L524.2,641.6 L531.6,651.2" fill="none" stroke="#0a0a0a" stroke-width="2.8" stroke-linecap="butt" stroke-linejoin="miter"/>
<text x="473.20" y="657.30" font-size="9.7" font-weight="bold" text-anchor="start" fill="#111"  stroke="#111" stroke-width="0.2">anti-BDNF</text>
<text x="517.00" y="696.26" font-size="7.7" font-weight="bold" text-anchor="middle" fill="#111"  stroke="#111" stroke-width="0.2">BAFF, APRIL,</text>
<text x="517.00" y="705.96" font-size="7.7" font-weight="bold" text-anchor="middle" fill="#111"  stroke="#111" stroke-width="0.2">CXCL12/CXCR4</text>
<text x="517.00" y="715.56" font-size="7.7" font-weight="bold" text-anchor="middle" fill="#111"  stroke="#111" stroke-width="0.2">inhibition</text>
</svg>
</body></html>
